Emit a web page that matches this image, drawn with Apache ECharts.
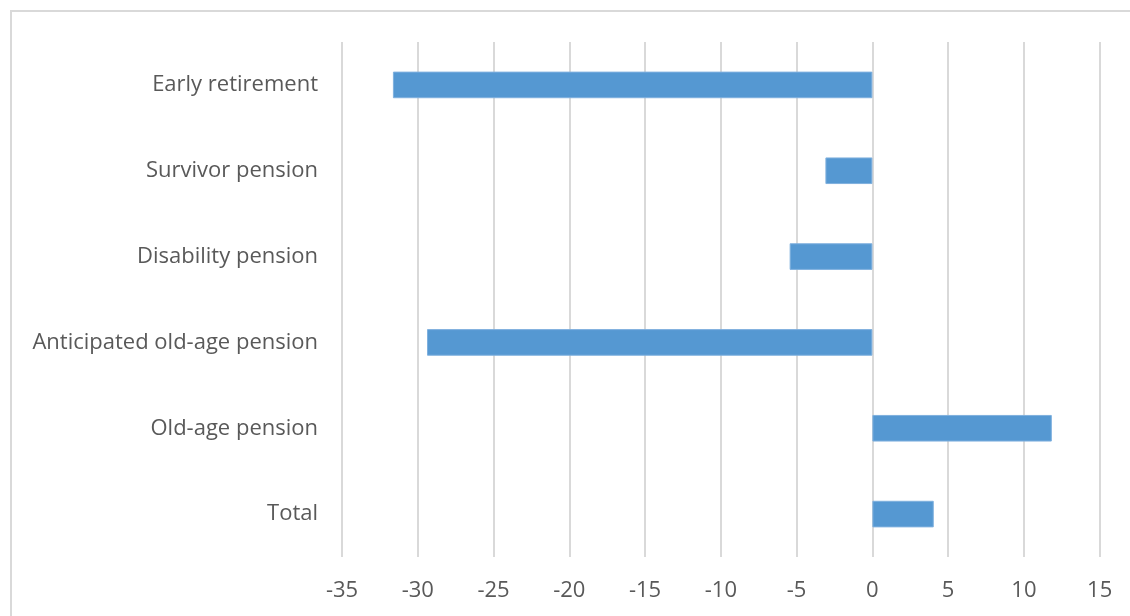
<!DOCTYPE html>
<html><head><meta charset="utf-8">
<script src="https://cdn.jsdelivr.net/npm/echarts@6/dist/echarts.min.js"></script>
<style>html,body{margin:0;padding:0;background:#fff}#c{width:1130px;height:616px}</style>
</head><body><div id="c"></div>
<script>
const categories = ['Total','Old-age pension','Anticipated old-age pension','Disability pension','Survivor pension','Early retirement'];
const values = [4.05, 11.84, -29.39, -5.46, -3.1, -31.64];
const xTicks = {min: -35, max: 15, interval: 5};

const chart = echarts.init(document.getElementById('c'), null, {renderer: 'canvas'});
chart.setOption({
  animation: false,
  backgroundColor: '#fff',
  graphic: [{type: 'rect', shape: {x: 11, y: 11, width: 1200, height: 700}, style: {fill: 'none', stroke: '#d9d9d9', lineWidth: 2}, silent: true}],
  grid: {left: 342, right: 30.3, top: 42, bottom: 59, containLabel: false},
  xAxis: {
    type: 'value', min: xTicks.min, max: xTicks.max, interval: xTicks.interval,
    axisLine: {show: false}, axisTick: {show: false},
    splitLine: {lineStyle: {color: '#d9d9d9', width: 2}},
    axisLabel: {color: '#595959', fontFamily: 'Open Sans', fontSize: 22, margin: 23}
  },
  yAxis: {
    type: 'category', data: categories,
    axisLine: {show: false}, axisTick: {show: false},
    axisLabel: {color: '#595959', fontFamily: 'Open Sans', fontSize: 22, margin: 24, padding: [2, 0, 0, 0]}
  },
  series: [{
    type: 'bar', data: values, barWidth: '31%',
    itemStyle: {color: '#5598D2', borderColor: '#7fb0de', borderWidth: 1}
  }]
});
</script></body></html>
